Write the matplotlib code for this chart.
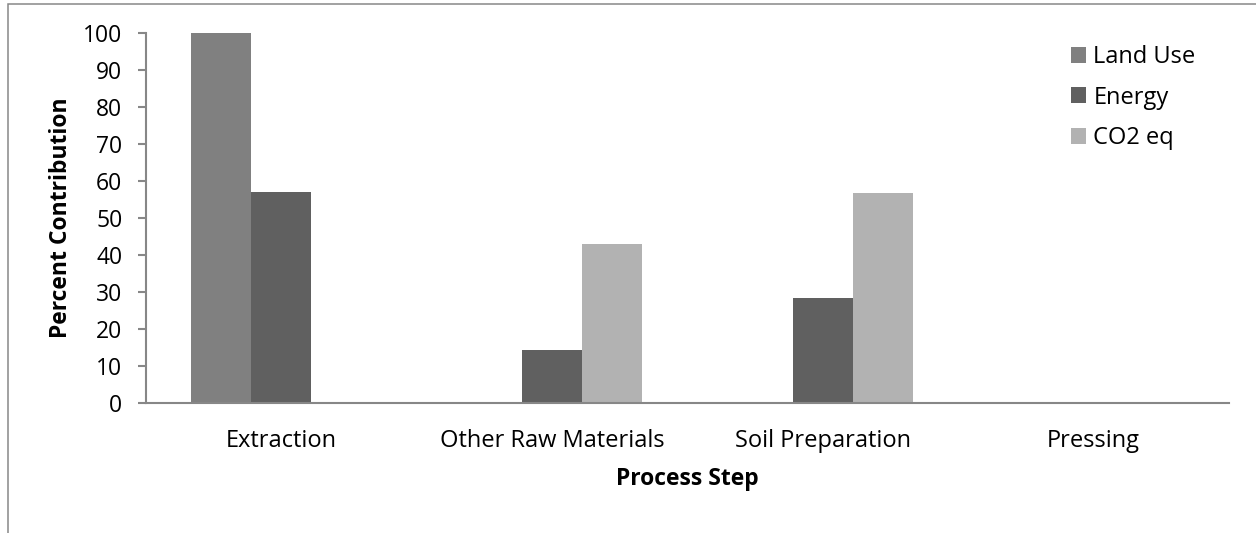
import matplotlib
matplotlib.use("Agg")
import matplotlib.pyplot as plt
from matplotlib.patches import Rectangle, Patch
import numpy as np

plt.rcParams['font.family'] = ['Open Sans', 'DejaVu Sans']

categories = ["Extraction", "Other Raw Materials", "Soil Preparation", "Pressing"]
series_names = ["Land Use", "Energy", "CO2 eq"]
land_use = [100.0, 0.0, 0.0, 0.0]
energy = [57.1, 14.3, 28.3, 0.0]
co2_eq = [0.0, 43.0, 56.7, 0.0]
y_ticks = list(range(0, 101, 10))

colors = ["#808080", "#606060", "#b2b2b2"]
axis_color = "#878787"
fs = 17
fs_y = 16.5

fig = plt.figure(figsize=(12.56, 5.33), dpi=100)
ax = fig.add_axes([146 / 1256, 1 - 402.7 / 533, (1229 - 146) / 1256, (402.7 - 33.3) / 533])

x = np.arange(len(categories))
width = 1 / 4.5
for i, (vals, col) in enumerate(zip([land_use, energy, co2_eq], colors)):
    ax.bar(x + (i - 1) * width, vals, width=width, color=col, edgecolor='none')

ax.set_xlim(-0.5, len(categories) - 0.5)
ax.set_ylim(0, 100)
ax.set_yticks(y_ticks)
ax.set_xticks(x)
ax.set_xticklabels(categories)

for side in ['top', 'right']:
    ax.spines[side].set_visible(False)
for side in ['left', 'bottom']:
    ax.spines[side].set_color(axis_color)
    ax.spines[side].set_linewidth(1.5)

ax.tick_params(axis='y', direction='out', length=6, width=1.5, color=axis_color,
               labelsize=fs_y, pad=11)
ax.tick_params(axis='x', length=0, labelsize=fs, pad=19)

ax.set_xlabel("Process Step", fontsize=fs - 0.5, fontweight='bold', labelpad=10)
ax.set_ylabel("Percent Contribution", fontsize=fs - 0.5, fontweight='bold', labelpad=7)

handles = [Patch(facecolor=c, edgecolor='none') for c in colors]
fig.legend(handles, series_names, loc='upper left',
           bbox_to_anchor=(1071 / 1256, 1 - 45 / 533), frameon=False,
           fontsize=fs, handlelength=0.65, handleheight=0.65,
           handletextpad=0.3, labelspacing=0.7, borderaxespad=0, borderpad=0)

# outer chart frame (continues past the right and bottom edges)
fig.add_artist(Rectangle((7.5 / 1256, -0.1), 1.2, 1.1 - 4.5 / 533,
                         transform=fig.transFigure, fill=False,
                         edgecolor=axis_color, linewidth=1.1))

fig.savefig("out.png", dpi=100)
